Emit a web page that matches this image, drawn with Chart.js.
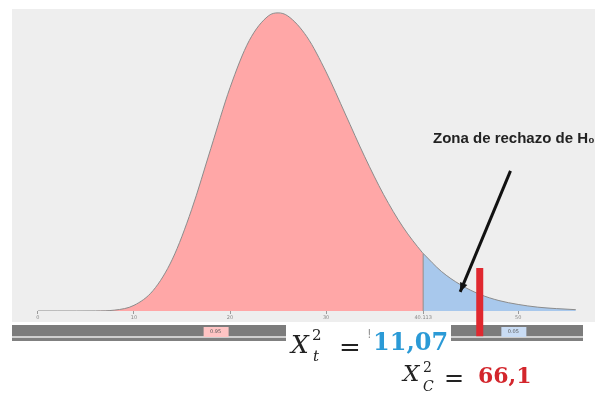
<!DOCTYPE html>
<html>
<head>
<meta charset="utf-8">
<script src="https://cdn.jsdelivr.net/npm/chart.js@4.4.1/dist/chart.umd.min.js"></script>
<style>
  html, body { margin: 0; padding: 0; background: #ffffff; }
  #wrap { width: 595px; height: 398px; position: relative; }
</style>
</head>
<body>
<div id="wrap"><canvas id="chart" width="595" height="398"></canvas></div>
<script>
// chi-square curve (relative height, peak = 1)
const xs = [0, 2, 4, 6, 8, 10, 12, 14, 16, 18, 20, 22, 24, 25, 26, 28, 30, 32, 34, 36, 38, 40, 40.11, 42, 44, 46, 48, 50, 52, 54, 56];
const ys = [0, 0, 0, 0.0003, 0.003, 0.019, 0.069, 0.174, 0.34, 0.545, 0.749, 0.907, 0.99, 1, 0.99, 0.92, 0.802, 0.661, 0.519, 0.39, 0.282, 0.197, 0.193, 0.133, 0.088, 0.056, 0.035, 0.022, 0.013, 0.008, 0.0045];

const critical = 40.11;          // limit of the rejection zone
const observed = 46;             // red marker
const tickValues = [0, 10, 20, 30, 40.11, 50];
const tickLabels = ['0', '10', '20', '30', '40.113', '50'];
const areaLabels = ['0.95', '0.05'];
const areaLabelAt = [18.5, 49.5];

const points = xs.map((x, i) => ({ x: x, y: ys[i] }));
const accept = points.filter(p => p.x <= critical);
const reject = points.filter(p => p.x >= critical);

// grey panel, bottom bars and white box behind the formula
const backdrop = {
    id: 'backdrop',
    beforeDraw(chart) {
        const ctx = chart.ctx;
        const a = chart.chartArea;
        const sx = chart.scales.x;
        ctx.save();
        ctx.fillStyle = '#eeeeee';
        ctx.fillRect(a.left, a.top, 595 - a.left, 322 - a.top);

        ctx.fillStyle = '#7c7c7c';
        ctx.fillRect(a.left, 325, 583 - a.left, 11);
        ctx.fillStyle = '#cfcfcf';
        ctx.fillRect(a.left, 336, 583 - a.left, 2);
        ctx.fillStyle = '#808080';
        ctx.fillRect(a.left, 338, 583 - a.left, 3);

        // little probability boxes on the bar
        const boxCol = ['#ffc4c4', '#c9dcf4'];
        ctx.font = '5px "DejaVu Sans"';
        ctx.textAlign = 'center';
        ctx.textBaseline = 'middle';
        areaLabels.forEach((t, i) => {
            const px = sx.getPixelForValue(areaLabelAt[i]);
            ctx.fillStyle = boxCol[i];
            ctx.fillRect(px - 12, 327, 25, 10);
            ctx.fillStyle = '#555';
            ctx.fillText(t, px, 332);
        });

        ctx.fillStyle = '#ffffff';
        ctx.fillRect(286, 322, 165, 46);
        ctx.restore();
    },
    afterDraw(chart) {
        const ctx = chart.ctx;
        const sx = chart.scales.x, sy = chart.scales.y;
        ctx.save();

        // arrow pointing at the rejection zone
        const x1 = sx.getPixelForValue(49.2), y1 = sy.getPixelForValue(0.47);
        const x2 = sx.getPixelForValue(43.96), y2 = sy.getPixelForValue(0.064);
        ctx.strokeStyle = '#111';
        ctx.fillStyle = '#111';
        ctx.lineWidth = 3;
        ctx.beginPath();
        ctx.moveTo(x1, y1);
        ctx.lineTo(x2, y2);
        ctx.stroke();
        const ang = Math.atan2(y2 - y1, x2 - x1);
        ctx.beginPath();
        ctx.moveTo(x2, y2);
        ctx.lineTo(x2 - 10 * Math.cos(ang - 0.4), y2 - 10 * Math.sin(ang - 0.4));
        ctx.lineTo(x2 - 10 * Math.cos(ang + 0.4), y2 - 10 * Math.sin(ang + 0.4));
        ctx.closePath();
        ctx.fill();

        ctx.fillStyle = '#222';
        ctx.font = 'bold 15px "Liberation Sans"';
        ctx.textAlign = 'left';
        ctx.textBaseline = 'alphabetic';
        ctx.fillText('Zona de rechazo de H\u2080', 433, 143);

        // formulas
        ctx.fillStyle = '#222';
        ctx.font = 'italic 25px "DejaVu Serif"';
        ctx.fillText('X', 291, 353);
        ctx.font = '15px "DejaVu Serif"';
        ctx.fillText('2', 312, 340);
        ctx.font = 'italic 15px "DejaVu Serif"';
        ctx.fillText('t', 313, 361);
        ctx.font = '26px "DejaVu Serif"';
        ctx.fillText('=', 339, 356);
        ctx.fillStyle = '#999';
        ctx.font = '12px "DejaVu Sans"';
        ctx.fillText('!', 367, 338);
        ctx.fillStyle = '#2b9ad6';
        ctx.font = 'bold 24px "DejaVu Serif"';
        ctx.fillText('11,07', 373, 350);

        ctx.fillStyle = '#222';
        ctx.font = 'italic 23px "DejaVu Serif"';
        ctx.fillText('X', 403, 381);
        ctx.font = '14px "DejaVu Serif"';
        ctx.fillText('2', 423, 372);
        ctx.font = 'italic 14px "DejaVu Serif"';
        ctx.fillText('C', 423, 391);
        ctx.font = '24px "DejaVu Serif"';
        ctx.fillText('=', 444, 386);
        ctx.fillStyle = '#d3262c';
        ctx.font = 'bold 22px "DejaVu Serif"';
        ctx.fillText('66,1', 478, 383);
        ctx.restore();
    }
};

new Chart(document.getElementById('chart'), {
    type: 'line',
    data: {
        datasets: [
            {
                data: [{ x: observed, y: 0.144 }, { x: observed, y: -0.085 }],
                borderColor: '#e0282f',
                borderWidth: 7,
                borderCapStyle: 'butt',
                fill: false,
                clip: false,
                order: 0
            },
            {
                data: [{ x: critical, y: 0 }, { x: critical, y: 0.193 }],
                borderColor: '#8a8a8a',
                borderWidth: 1,
                fill: false,
                order: 1
            },
            {
                data: accept,
                borderColor: '#8c8c8c',
                borderWidth: 1,
                backgroundColor: '#ffa7a7',
                fill: 'origin',
                cubicInterpolationMode: 'monotone',
                order: 2
            },
            {
                data: reject,
                borderColor: '#8c8c8c',
                borderWidth: 1,
                backgroundColor: '#a8c8ec',
                fill: 'origin',
                cubicInterpolationMode: 'monotone',
                order: 2
            }
        ]
    },
    options: {
        responsive: false,
        animation: false,
        events: [],
        layout: { padding: { left: 12, top: 9, right: 0, bottom: 76 } },
        elements: { point: { radius: 0 } },
        plugins: { legend: { display: false }, tooltip: { enabled: false } },
        scales: {
            x: {
                type: 'linear',
                min: -2.7,
                max: 58,
                afterBuildTicks: s => { s.ticks = tickValues.map(v => ({ value: v })); },
                ticks: {
                    font: { size: 5, family: 'DejaVu Sans' },
                    color: '#888',
                    padding: 1,
                    maxRotation: 0,
                    autoSkip: false,
                    callback: (v, i) => tickLabels[i]
                },
                grid: { drawOnChartArea: false, drawTicks: true, tickLength: 3, color: '#999' },
                border: { display: false }
            },
            y: {
                display: false,
                min: 0,
                max: 1.013
            }
        }
    },
    plugins: [backdrop]
});
</script>
</body>
</html>
